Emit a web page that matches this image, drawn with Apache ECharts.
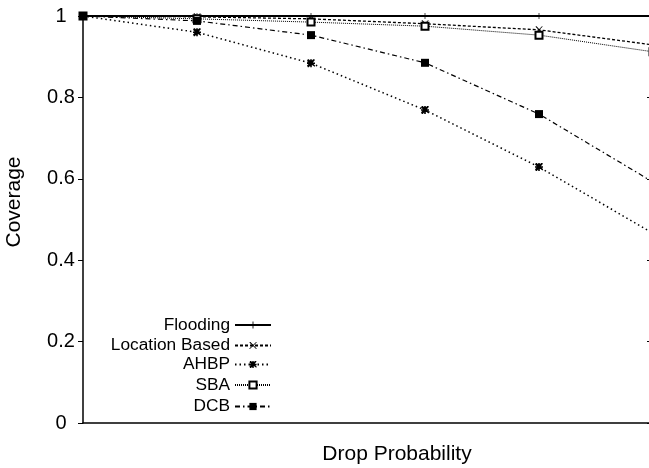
<!DOCTYPE html>
<html>
<head>
<meta charset="utf-8">
<script src="https://cdn.jsdelivr.net/npm/echarts@6/dist/echarts.min.js"></script>
<style>
html,body{margin:0;padding:0;background:#fff;}
#chart{width:649px;height:468px;}
</style>
</head>
<body>
<div id="chart"></div>
<script>
// Data
var dropProb = [0, 0.1, 0.2, 0.3, 0.4, 0.5];
var seriesNames = ['Flooding', 'Location Based', 'AHBP', 'SBA', 'DCB'];
var flooding = [1, 1, 1, 1, 1, 1];
var locationBased = [1, 0.998, 0.993, 0.981, 0.966, 0.929];
var ahbp = [1, 0.960, 0.884, 0.769, 0.629, 0.466];
var sba = [1, 0.993, 0.985, 0.975, 0.953, 0.912];
var dcb = [1, 0.988, 0.953, 0.885, 0.759, 0.592];
var yTicks = [0, 0.2, 0.4, 0.6, 0.8, 1];

var FONT = "'Liberation Sans', Arial, Helvetica, sans-serif";
var PLUS = 'path://M-1,-0.12L1,-0.12L1,0.12L-1,0.12Z M-0.12,-1L0.12,-1L0.12,1L-0.12,1Z';
var CROSS = 'path://M-0.85,-1L-0.7,-1L1,0.85L1,1L0.85,1L-1,-0.85Z M0.85,-1L1,-1L1,-0.85L-0.85,1L-1,1L-1,0.85Z';
var STAR = 'path://M-1,-0.2L1,-0.2L1,0.2L-1,0.2Z M-0.2,-1L0.2,-1L0.2,1L-0.2,1Z M-0.8,-1L-0.55,-1L1,0.55L1,0.8L0.8,0.8L-1,-0.55Z M0.55,-1L0.8,-1L1,-0.8L-0.55,1L-0.8,1L-1,0.55Z M-0.5,-0.5L0.5,-0.5L0.5,0.5L-0.5,0.5Z';

function pairs(vals){ return dropProb.map(function(x,i){ return [x, vals[i]]; }); }

var styles = [
  {data: flooding, symbol: PLUS, size: 6, line: {width: 2, type: 'solid'}},
  {data: locationBased, symbol: CROSS, size: 7, line: {width: 1.3, type: [3, 2]}},
  {data: ahbp, symbol: STAR, size: 8, line: {width: 1.5, type: [1.5, 3]}},
  {data: sba, symbol: 'emptyRect', size: 7, line: {width: 1, type: [1, 1]}},
  {data: dcb, symbol: 'rect', size: 8, line: {width: 1.2, type: [5, 3, 1.5, 3]}}
];

var series = seriesNames.map(function(name, i){
  var s = styles[i];
  return {
    name: name,
    type: 'line',
    data: pairs(s.data),
    symbol: s.symbol,
    symbolSize: s.size,
    showAllSymbol: true,
    clip: false,
    z: 2 + i,
    lineStyle: {color: '#000', width: s.line.width, type: s.line.type},
    itemStyle: {color: '#000', borderColor: '#000', borderWidth: s.symbol === 'emptyRect' ? 1.2 : 0},
    animation: false
  };
});

var legendCenters = [325, 345.5, 364.5, 385, 406.5];
var legends = seriesNames.map(function(name, i){
  return {
    data: [name],
    orient: 'vertical',
    align: 'right',
    right: 649 - 272,
    top: legendCenters[i] - 9,
    padding: 0,
    itemWidth: 36,
    itemHeight: 9,
    selectedMode: false,
    textStyle: {fontFamily: FONT, fontSize: 17.3, color: '#000', lineHeight: 18}
  };
});

var chart = echarts.init(document.getElementById('chart'), null, {renderer: 'canvas'});
chart.setOption({
  backgroundColor: '#fff',
  animation: false,
  textStyle: {fontFamily: FONT},
  legend: legends,
  grid: {left: 83, right: -4, top: 16, bottom: 45, containLabel: false, outerBoundsMode: 'none'},
  xAxis: {
    type: 'value',
    min: dropProb[0],
    max: dropProb[dropProb.length - 1],
    name: 'Drop Probability',
    nameLocation: 'middle',
    nameGap: 21,
    nameTextStyle: {fontFamily: FONT, fontSize: 21, color: '#000', padding: [0, 0, 0, 58]},
    axisLine: {show: true, onZero: false, lineStyle: {color: '#000', width: 1.5}},
    axisTick: {show: false},
    axisLabel: {show: false},
    splitLine: {show: false}
  },
  yAxis: [{
    type: 'value',
    min: yTicks[0],
    max: yTicks[yTicks.length - 1],
    interval: 0.2,
    name: 'Coverage',
    nameLocation: 'middle',
    nameRotate: 90,
    nameGap: 58,
    nameTextStyle: {fontFamily: FONT, fontSize: 21, color: '#000', padding: [0, 0, 0, 35]},
    axisLine: {show: true, lineStyle: {color: '#000', width: 1.5}},
    axisTick: {show: true, inside: false, length: 5, lineStyle: {color: '#000', width: 1}},
    axisLabel: {fontFamily: FONT, fontSize: 20, color: '#000', align: 'center', margin: 22},
    splitLine: {show: false}
  }, {
    type: 'value',
    position: 'right',
    min: yTicks[0],
    max: yTicks[yTicks.length - 1],
    interval: 0.2,
    axisLine: {show: false},
    axisTick: {show: true, inside: true, length: 6, lineStyle: {color: '#000', width: 1}},
    axisLabel: {show: false},
    splitLine: {show: false}
  }],
  series: series
});
</script>
</body>
</html>
